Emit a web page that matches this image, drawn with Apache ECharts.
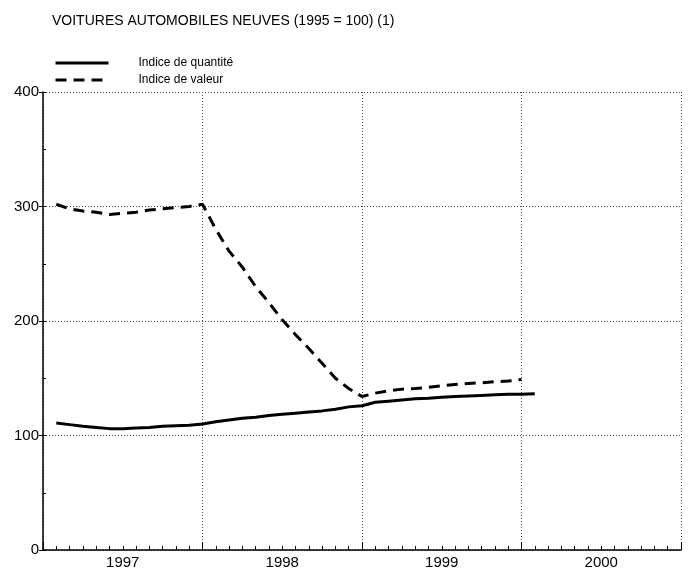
<!DOCTYPE html>
<html>
<head>
<meta charset="utf-8">
<script src="https://cdn.jsdelivr.net/npm/echarts@6/dist/echarts.min.js"></script>
<style>
  html, body { margin: 0; padding: 0; background: #fff; }
  #chart { width: 689px; height: 571px; }
</style>
</head>
<body>
<div id="chart"></div>
<script>
  // mois : 1 = janv. 1997 ... 37 = janv. 2000 (position en fin de mois)
  var xMonth = [1, 2, 3, 4, 5, 6, 7, 8, 9, 10, 11, 12,
                13, 14, 15, 16, 17, 18, 19, 20, 21, 22, 23, 24,
                25, 26, 27, 28, 29, 30, 31, 32, 33, 34, 35, 36, 37]
  var quantite = [111, 109.5, 108, 107, 106, 106, 106.5, 107, 108, 108.5, 109, 110,
                  112, 113.5, 115, 116, 117.5, 118.5, 119.5, 120.5, 121.5, 123, 125, 126,
                  129, 130, 131, 132, 132.5, 133.5, 134, 134.5, 135, 135.5, 136, 136, 136.5]
  var valeur = [302, 298, 296, 295, 293, 294, 295, 297, 298, 299, 300, 302,
                280, 261, 247, 230, 216, 201, 188, 176, 163, 150, 141, 134,
                137, 139, 140.5, 141, 142, 143.5, 144.5, 145.5, 146, 147, 147.5, 149, null]
  var years = ['1997', '1998', '1999', '2000']
  var yTicks = [0, 100, 200, 300, 400]

  var font = 'Liberation Sans, Arial, sans-serif'

  function pairs (vals) {
    return xMonth.map(function (m, i) { return [m, vals[i]] })
  }

  var option = {
    animation: false,
    backgroundColor: '#fff',
    title: {
      text: 'VOITURES AUTOMOBILES NEUVES (1995 = 100) (1)',
      left: 47,
      top: 9,
      textStyle: { fontFamily: font, fontSize: 14, fontWeight: 'normal', color: '#000' }
    },
    legend: {
      orient: 'vertical',
      left: 49,
      top: 52,
      itemWidth: 53,
      itemHeight: 14,
      itemGap: 5,
      data: ['Indice de quantité', 'Indice de valeur'],
      itemStyle: { opacity: 0 },
      lineStyle: { width: 3 },
      textStyle: { fontFamily: font, fontSize: 12, color: '#000', padding: [0, 0, 0, 25] }
    },
    grid: { left: 43, right: 8, top: 92, bottom: 21 },
    xAxis: [
      {
        type: 'value', min: 0, max: 48, interval: 12,
        axisLine: { lineStyle: { color: '#000', width: 1.5 } },
        axisTick: { inside: true, length: 8, lineStyle: { color: '#000' } },
        minorTick: { show: true, splitNumber: 12, length: 4, lineStyle: { color: '#000' } },
        splitLine: { show: true, lineStyle: { color: '#555', type: [1, 2], width: 1 } },
        axisLabel: { show: false }
      },
      {
        type: 'value', min: 0, max: 48, interval: 6, position: 'bottom', offset: 0,
        axisLine: { show: false }, axisTick: { show: false }, splitLine: { show: false },
        axisLabel: {
          margin: 5,
          fontFamily: font, fontSize: 15, color: '#000',
          formatter: function (v) {
            return v % 12 === 6 ? years[(v - 6) / 12] : ''
          }
        }
      }
    ],
    yAxis: [
      {
        type: 'value', min: yTicks[0], max: yTicks[yTicks.length - 1], interval: 100,
        axisLine: { show: true, lineStyle: { color: '#000', width: 1.5 } },
        axisTick: { show: true, inside: false, length: 4, lineStyle: { color: '#000' } },
        splitLine: { show: true, lineStyle: { color: '#444', type: [1, 2], width: 1 } },
        axisLabel: { margin: 4, fontFamily: font, fontSize: 15, color: '#000' }
      },
      {
        type: 'value', min: 0, max: 400, interval: 50, position: 'left', offset: 0,
        axisLine: { show: false },
        axisTick: { show: true, inside: true, length: 3, lineStyle: { color: '#000' } },
        splitLine: { show: false },
        axisLabel: { show: false }
      }
    ],
    series: [
      {
        name: 'Indice de quantité',
        type: 'line',
        data: pairs(quantite),
        symbol: 'none',
        lineStyle: { color: '#000', width: 3 },
        itemStyle: { color: '#000' }
      },
      {
        name: 'Indice de valeur',
        type: 'line',
        data: pairs(valeur),
        symbol: 'none',
        connectNulls: false,
        lineStyle: { color: '#000', width: 3, type: [11, 7] },
        itemStyle: { color: '#000' }
      }
    ]
  }

  var myChart = echarts.init(document.getElementById('chart'))
  myChart.setOption(option)
</script>
</body>
</html>
